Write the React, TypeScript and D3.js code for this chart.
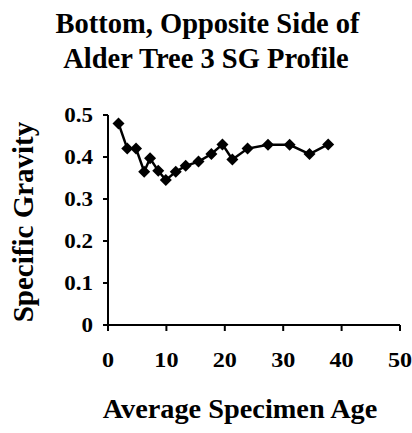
import React from "react";
import * as d3 from "d3";

const ages = [1.8, 3.3, 4.8, 6.2, 7.2, 8.6, 9.9, 11.6, 13.3, 15.5, 17.7, 19.6, 21.3, 23.9, 27.4, 31.1, 34.5, 37.7];
const sg = [0.48, 0.42, 0.42, 0.365, 0.397, 0.367, 0.345, 0.365, 0.379, 0.389, 0.407, 0.43, 0.394, 0.42, 0.429, 0.429, 0.407, 0.43];
const xTicks = [0, 10, 20, 30, 40, 50];
const yTicks = [0, 0.1, 0.2, 0.3, 0.4, 0.5];
const yTickLabels = ["0", "0.1", "0.2", "0.3", "0.4", "0.5"];

const W = 412, H = 433;
const font = "'Liberation Serif', 'Times New Roman', serif";

export default function App() {
  const x = d3.scaleLinear().domain([0, 50]).range([108, 400]);
  const y = d3.scaleLinear().domain([0, 0.5]).range([325, 115]);
  const pts = ages.map((a, i) => [x(a), y(sg[i])] as [number, number]);
  const line = d3.line()(pts) || "";
  const d = 6;
  return (
    <svg width={W} height={H} style={{ position: "absolute", left: 0, top: 0, background: "#fff" }}>
      <g fontFamily={font} fontWeight="bold" fill="#000">
        <text x={207.5} y={33} textAnchor="middle" fontSize={28.5}>Bottom, Opposite Side of</text>
        <text x={206} y={68} textAnchor="middle" fontSize={28.5}>Alder Tree 3 SG Profile</text>
        <text transform="translate(240,418) scale(1.03,1)" textAnchor="middle" fontSize={27.5}>Average Specimen Age</text>
        <text transform={`translate(33,222) rotate(-90)`} textAnchor="middle" fontSize={29}>Specific Gravity</text>
        {xTicks.map(t => (
          <text key={t} transform={`translate(${x(t)},367) scale(1.15,1)`} textAnchor="middle" fontSize={21}>{t}</text>
        ))}
        {yTicks.map((t, i) => (
          <text key={t} transform={`translate(93,${y(t) + 7}) scale(1.15,1)`} textAnchor="end" fontSize={20}>{yTickLabels[i]}</text>
        ))}
      </g>
      <g stroke="#000" strokeWidth={2}>
        <line x1={x(0)} x2={x(0)} y1={y(0.5)} y2={y(0)} />
        <line x1={x(0)} x2={x(50)} y1={y(0)} y2={y(0)} />
        {yTicks.map(t => (
          <line key={t} x1={x(0) - 5} x2={x(0)} y1={y(t)} y2={y(t)} />
        ))}
        {xTicks.map(t => (
          <line key={t} x1={x(t)} x2={x(t)} y1={y(0)} y2={y(0) + 6} />
        ))}
      </g>
      <path d={line} fill="none" stroke="#000" strokeWidth={2.5} />
      {pts.map(([px, py], i) => (
        <path key={i} d={`M${px},${py - d}L${px + d},${py}L${px},${py + d}L${px - d},${py}Z`} fill="#000" />
      ))}
    </svg>
  );
}
